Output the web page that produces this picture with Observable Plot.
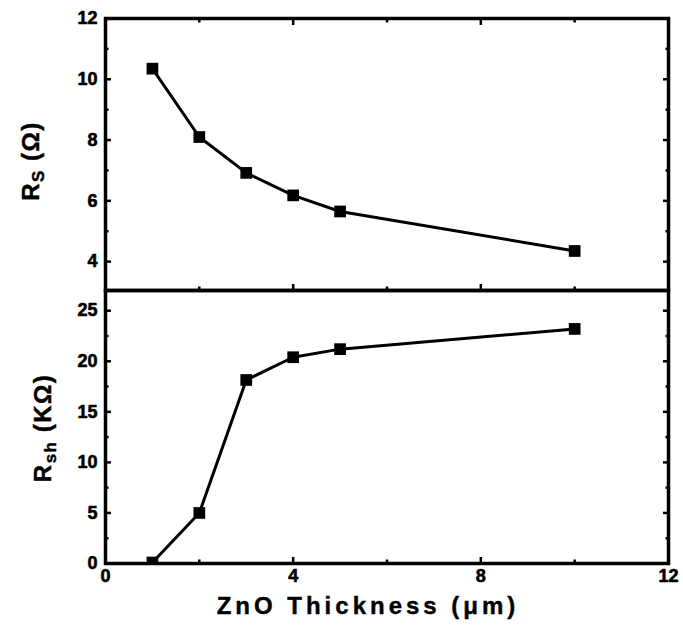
<!DOCTYPE html>
<html><head><meta charset="utf-8">
<script src="https://cdn.jsdelivr.net/npm/d3@7"></script>
<script src="https://cdn.jsdelivr.net/npm/@observablehq/plot@0.6"></script>
<style>
body{margin:0;background:#fff;}
#chart{position:relative;width:683px;height:626px;background:#fff;}
#chart svg{position:absolute;left:0;overflow:visible;}
</style></head><body><div id="chart"></div>
<script>
const thickness = [1, 2, 3, 4, 5, 10];
const rsValues = [10.35, 8.1, 6.92, 6.18, 5.65, 4.35];
const rshValues = [0.1, 5.0, 18.15, 20.4, 21.2, 23.2];
const xTickLabels = [0, 4, 8, 12];
const xMajorTicks = [4, 8];
const xMinorTicks = [2, 6, 10];
const rsTicks = [4, 6, 8, 10, 12];
const rsMinorTicks = [5, 7, 9, 11];
const rshTicks = [0, 5, 10, 15, 20, 25];
const rshMinorTicks = [2.5, 7.5, 12.5, 17.5, 22.5];

const rows = thickness.map((t, i) => ({t, rs: rsValues[i], rsh: rshValues[i]}));
const W = 683, ML = 105, MR = 15;
const FONT = '"Liberation Sans", Arial, sans-serif';
const style = {fontFamily: FONT, fontWeight: "bold", background: "transparent", overflow: "visible", color: "black"};
const tickText = {fontFamily: FONT, fontSize: 18, fontWeight: "bold", fill: "black", stroke: "black", strokeWidth: 0.6};

function yTicks(major, minor) {
  return [
    Plot.axisY(major, {anchor: "left", tickSize: -6, strokeWidth: 2.5, fill: "none", label: null}),
    Plot.axisY(minor, {anchor: "left", tickSize: -3.5, strokeWidth: 2.5, fill: "none", label: null}),
    Plot.axisY(major, {anchor: "right", tickSize: -6, strokeWidth: 2.5, fill: "none", label: null}),
    Plot.axisY(minor, {anchor: "right", tickSize: -3.5, strokeWidth: 2.5, fill: "none", label: null}),
    Plot.text(major, {y: d => d, frameAnchor: "left", textAnchor: "end", dx: -8, ...tickText, style: "letter-spacing:3.5px"})
  ];
}
function xTicks(anchor) {
  return [
    Plot.axisX(xMajorTicks, {anchor, tickSize: -6, strokeWidth: 2.5, fill: "none", label: null}),
    Plot.axisX(xMinorTicks, {anchor, tickSize: -3.5, strokeWidth: 2.5, fill: "none", label: null})
  ];
}

const topPlot = Plot.plot({
  width: W, height: 290, marginTop: 18, marginBottom: 0, marginLeft: ML, marginRight: MR,
  style,
  x: {domain: [0, 12]},
  y: {domain: [3.05, 12]},
  marks: [
    ...yTicks(rsTicks, rsMinorTicks),
    ...xTicks("top"),
    ...xTicks("bottom"),
    Plot.frame({strokeWidth: 3.5}),
    Plot.line(rows, {x: "t", y: "rs", strokeWidth: 3}),
    Plot.dot(rows, {x: "t", y: "rs", symbol: "square", r: 6.6, fill: "black", stroke: "none"})
  ]
});

const botPlot = Plot.plot({
  width: W, height: 336, marginTop: 0, marginBottom: 63, marginLeft: ML, marginRight: MR,
  style,
  x: {domain: [0, 12]},
  y: {domain: [0, 27]},
  marks: [
    ...yTicks(rshTicks, rshMinorTicks),
    ...xTicks("bottom"),
    Plot.text(xTickLabels, {x: d => d, frameAnchor: "bottom", lineAnchor: "top", dy: 6, ...tickText, style: "letter-spacing:3.5px"}),
    Plot.frame({strokeWidth: 3.5}),
    Plot.line(rows, {x: "t", y: "rsh", strokeWidth: 3}),
    Plot.dot(rows, {x: "t", y: "rsh", symbol: "square", r: 6.6, fill: "black", stroke: "none", clip: true})
  ]
});

const chart = document.getElementById("chart");
botPlot.style.top = "290px";
topPlot.style.top = "0px";
chart.appendChild(botPlot);
chart.appendChild(topPlot);

function yLabel(svg, x, y, main, sub, rest) {
  const t = d3.select(svg).append("text")
    .attr("transform", `translate(${x},${y}) rotate(-90)`)
    .attr("text-anchor", "middle")
    .attr("font-family", FONT).attr("font-weight", "bold").attr("font-size", 24)
    .attr("letter-spacing", "1.5px").attr("fill", "black")
    .attr("stroke", "black").attr("stroke-width", 0.4);
  t.append("tspan").text(main);
  t.append("tspan").attr("font-size", 17).attr("dy", 5).text(sub);
  t.append("tspan").attr("dy", -5).text(rest);
}
yLabel(topPlot, 39, 161, "R", "S", " (Ω)");
yLabel(botPlot, 51, 428 - 290, "R", "sh", " (KΩ)");

d3.select(botPlot).append("text")
  .attr("x", 368).attr("y", 614 - 290)
  .attr("text-anchor", "middle")
  .attr("font-family", FONT).attr("font-weight", "bold").attr("font-size", 24)
  .attr("letter-spacing", "4px").attr("fill", "black")
  .attr("stroke", "black").attr("stroke-width", 0.4)
  .text("ZnO Thickness (μm)");
</script></body></html>
